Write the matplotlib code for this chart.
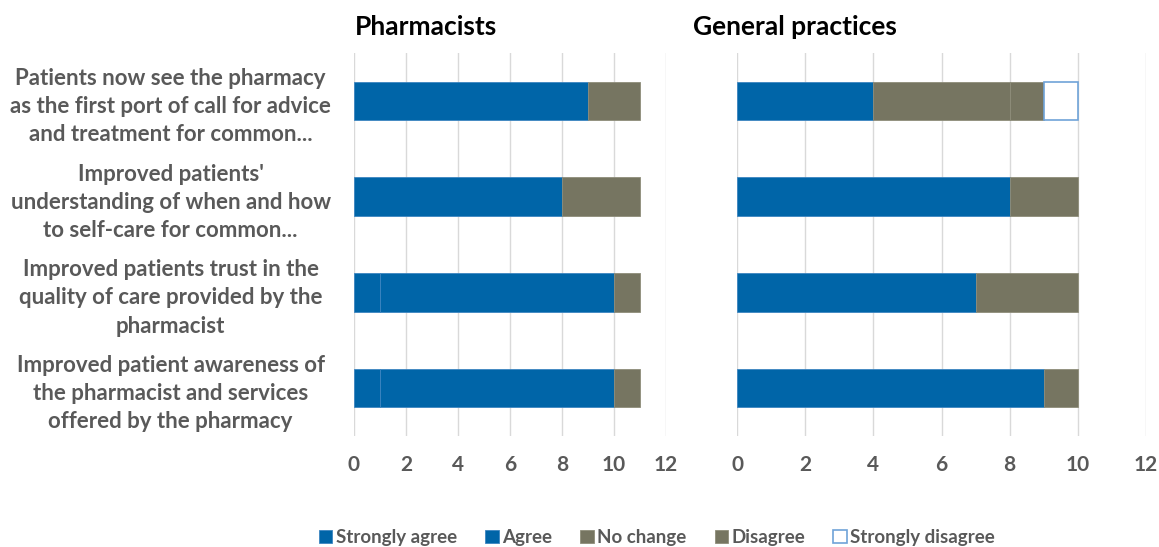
import numpy as np
import matplotlib
matplotlib.use("Agg")
import matplotlib.pyplot as plt
from matplotlib.patches import Patch

# statements, top to bottom as in the chart
categories = [
    "Patients now see the pharmacy\nas the first port of call for advice\nand treatment for common...",
    "Improved patients'\nunderstanding of when and how\nto self-care for common...",
    "Improved patients trust in the\nquality of care provided by the\npharmacist",
    "Improved patient awareness of\nthe pharmacist and services\noffered by the pharmacy",
]
series = ["Strongly agree", "Agree", "No change", "Disagree", "Strongly disagree"]

pharm_strongly_agree = [0, 0, 1, 1]
pharm_agree = [9, 8, 9, 9]
pharm_no_change = [2, 3, 1, 1]
pharm_disagree = [0, 0, 0, 0]
pharm_strongly_disagree = [0, 0, 0, 0]

gp_strongly_agree = [0, 0, 0, 0]
gp_agree = [4, 8, 7, 9]
gp_no_change = [4, 2, 3, 1]
gp_disagree = [1, 0, 0, 0]
gp_strongly_disagree = [1, 0, 0, 0]

xticks = [0, 2, 4, 6, 8, 10, 12]

BLUE = "#0065A8"
OLIVE = "#767561"
styles = [
    dict(facecolor=BLUE, edgecolor="#3D85C0", linewidth=0.6),
    dict(facecolor=BLUE, edgecolor="#3D85C0", linewidth=0.6),
    dict(facecolor=OLIVE, edgecolor="#8E8D7A", linewidth=0.6),
    dict(facecolor=OLIVE, edgecolor="#8E8D7A", linewidth=0.6),
    dict(facecolor="white", edgecolor="#6FA3D8", linewidth=1.2),
]

LABEL_FONT = ["Lato", "DejaVu Sans"]
GREY = "#595959"


def draw_panel(ax, data):
    y = np.arange(len(categories))[::-1]
    left = np.zeros(len(categories))
    for vals, st in zip(data, styles):
        vals = np.array(vals, dtype=float)
        m = vals > 0
        ax.barh(y[m], vals[m], left=left[m], height=0.4, zorder=3, **st)
        left += vals
    ax.set_xlim(0, 12)
    ax.set_ylim(-0.5, len(categories) - 0.5)
    ax.set_xticks(xticks)
    ax.grid(axis="x", color="#D9D9D9", linewidth=1, zorder=0)
    for s in ax.spines.values():
        s.set_visible(False)
    ax.tick_params(axis="x", length=0, pad=14, labelsize=15, labelcolor=GREY)
    ax.tick_params(axis="y", length=0)
    for t in ax.get_xticklabels():
        t.set_family(LABEL_FONT)
        t.set_weight("bold")
    return y


fig = plt.figure(figsize=(11.59, 5.47), dpi=100)
ax1 = fig.add_axes([0.3054, 0.2029, 0.2692, 0.7002])
ax2 = fig.add_axes([0.6359, 0.2029, 0.3529, 0.7002])

y = draw_panel(ax1, [pharm_strongly_agree, pharm_agree, pharm_no_change,
                     pharm_disagree, pharm_strongly_disagree])
draw_panel(ax2, [gp_strongly_agree, gp_agree, gp_no_change,
                 gp_disagree, gp_strongly_disagree])

ax1.set_yticks(y)
ax1.set_yticklabels(categories, family=LABEL_FONT, weight="bold", fontsize=16,
                    color=GREY, ha="center", multialignment="center",
                    linespacing=1.42)
ax1.tick_params(axis="y", pad=132)
ax2.set_yticks([])

fig.text(0.306, 0.950, "Pharmacists", family=LABEL_FONT, weight="bold",
         fontsize=19, va="center", ha="left")
fig.text(0.598, 0.950, "General practices", family=LABEL_FONT, weight="bold",
         fontsize=19, va="center", ha="left")

handles = [Patch(**st) for st in styles]
leg = fig.legend(handles, series, loc="center", bbox_to_anchor=(0.567, 0.017),
                 ncol=5, frameon=False, handlelength=0.7, handleheight=0.7,
                 handletextpad=0.2, columnspacing=1.5,
                 prop=dict(family=LABEL_FONT, weight="bold", size=13.5))
for t in leg.get_texts():
    t.set_color(GREY)

fig.savefig("out.png", dpi=100)
